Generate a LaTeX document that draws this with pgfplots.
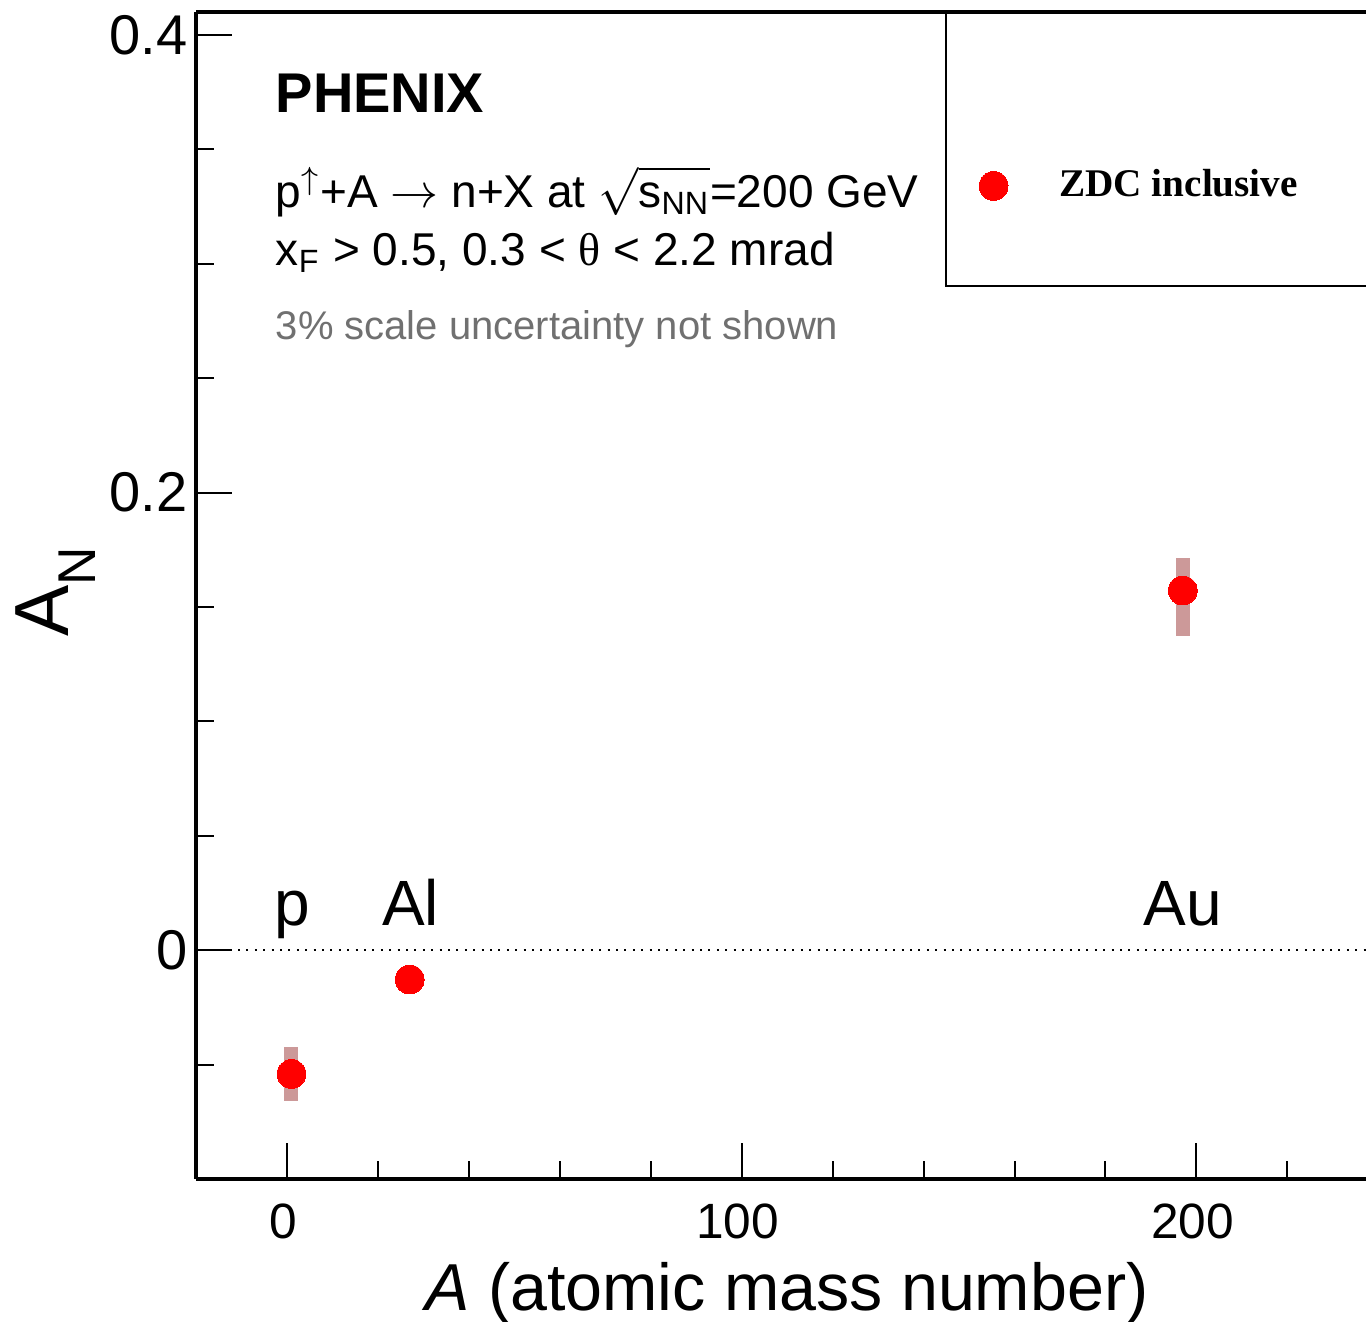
\documentclass[border=0pt]{standalone}
\usepackage{fontspec}
\setmainfont{Liberation Sans}
\newfontfamily\legendfont{Liberation Serif}
\usepackage{amsmath}
\usepackage{pgfplots}
\usepackage{pgfplotstable}
\pgfplotsset{compat=1.18}

\definecolor{syserr}{RGB}{204,153,153}
\definecolor{notegray}{RGB}{112,112,112}

% A_N versus atomic mass number: x = A, y = A_N, systematic uncertainty up / down
\pgfplotstableread{
A    AN       eup     edn
1    -0.0541  0.0118  0.0117
27   -0.0128  0.0050  0.0050
197   0.1572  0.0141  0.0198
}\asymdata

\begin{document}
\begin{tikzpicture}
\begin{axis}[
  scale only axis,
  width=292.5pt, height=291.75pt,
  xmin=-20, xmax=237.3,
  ymin=-0.1, ymax=0.41,
  clip=false,
  axis x line*=bottom,
  axis y line*=left,
  axis line style={line width=0.8pt},
  tick align=inside,
  xtick={0,100,200},
  xticklabels={0,100,200},
  minor xtick={20,40,60,80,120,140,160,180,220},
  ytick={0,0.2,0.4},
  yticklabels={0,0.2,0.4},
  minor ytick={-0.05,0.05,0.1,0.15,0.25,0.3,0.35},
  major tick length=9pt,
  minor tick length=4.4pt,
  every tick/.style={black, line width=0.5pt},
  yticklabel style={font=\fontsize{14}{16}\selectfont, anchor=east, inner sep=0pt, xshift=-2pt},
  xticklabel style={font=\fontsize{12.4}{14}\selectfont, anchor=base, inner sep=0pt, yshift=-14.75pt, xshift=-1pt},
  xlabel={\textit{A} (atomic mass number)},
  every axis x label/.style={at={(axis description cs:0.505,-0.1123)}, anchor=base, inner sep=0pt,
    font=\fontsize{16.6}{18}\selectfont},
  ylabel={A\raisebox{-6.75pt}{\fontsize{13.3}{14}\selectfont N}},
  every axis y label/.style={at={(axis description cs:-0.1547,0.5034)}, rotate=90, anchor=north,
    inner sep=0pt, font=\fontsize{19.2}{21}\selectfont},
  legend image code/.code={%
    \draw[#1] plot coordinates {(0pt,0pt)};
    \path (-3.6pt,0pt) (16.25pt,0pt);},
  legend style={draw=none, fill=none, inner sep=0pt, outer sep=0pt,
    nodes={inner sep=0pt}, column sep=0pt,
    at={(rel axis cs:0.6687,0.851)}, anchor=west,
    font=\legendfont\bfseries\fontsize{9.8}{11}\selectfont},
]

% zero line
\draw[line width=0.55pt, dash pattern=on 0.5pt off 1.6pt] (axis cs:-20,0) -- (axis cs:237.3,0);

% systematic uncertainty bands
\addplot[only marks, mark=none, forget plot,
  error bars/.cd, y dir=both, y explicit,
  error bar style={line width=3.5pt, syserr}, error mark=none]
  table[x=A, y=AN, y error plus=eup, y error minus=edn] {\asymdata};

% measured asymmetries
\addplot[red, only marks, mark=*, mark size=3.6pt, mark options={draw=red, fill=red, line width=0pt}]
  table[x=A, y=AN] {\asymdata};
\addlegendentry{ZDC inclusive}

% frame: top edge and legend box
\draw[line width=0.8pt] (rel axis cs:0,1) -- (rel axis cs:1,1);
\draw[line width=0.65pt] (rel axis cs:1,0.7652) -- (rel axis cs:0.641,0.7652) -- (rel axis cs:0.641,1);

% annotations
\node[anchor=base west, inner sep=0pt, font=\bfseries\fontsize{14}{16}\selectfont]
  at (rel axis cs:0.0675,0.9143) {PHENIX};
\node[anchor=base west, inner sep=0pt, font=\fontsize{11.5}{13}\selectfont]
  at (rel axis cs:0.0675,0.8329)
  {p$^{\uparrow}$+A $\rightarrow$ n+X at $\sqrt{\vphantom{A}\text{s}_{\text{NN}}}$=200 GeV};
\node[anchor=base west, inner sep=0pt, font=\fontsize{11.5}{13}\selectfont]
  at (rel axis cs:0.0675,0.7832)
  {$\text{x}_{\text{F}}$ > 0.5, 0.3 < {\legendfont θ} < 2.2 mrad};
\node[anchor=base west, inner sep=0pt, text=notegray, font=\fontsize{10}{12}\selectfont]
  at (rel axis cs:0.0675,0.719) {3\% scale uncertainty not shown};

\node[anchor=base, inner sep=0pt, font=\fontsize{16}{18}\selectfont] at (axis cs:1.2,0.011) {p};
\node[anchor=base, inner sep=0pt, font=\fontsize{16}{18}\selectfont] at (axis cs:27.2,0.011) {Al};
\node[anchor=base, inner sep=0pt, font=\fontsize{16}{18}\selectfont] at (axis cs:197,0.011) {Au};
\end{axis}
\pgfresetboundingbox
\path[use as bounding box] (current axis.south west) ++(-49pt,-35.5pt) rectangle ++(341.5pt,330.25pt);
\end{tikzpicture}
\end{document}
